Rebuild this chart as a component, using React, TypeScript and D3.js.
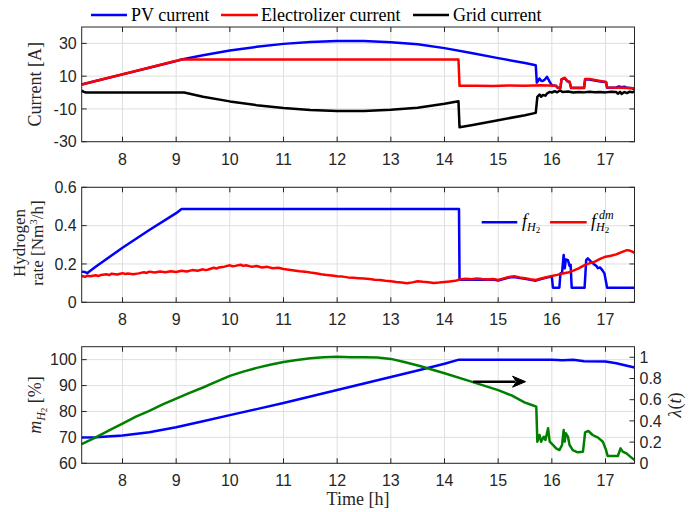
import React from "react";
import * as d3 from "d3";

type Pt = [number, number];

// time axis
const timeDomain = [7.24, 17.54];
const timeTicks = [8, 9, 10, 11, 12, 13, 14, 15, 16, 17];

// panel 1: currents [A]
const currentTicks = [-30, -10, 10, 30];
const pvCurrent: Pt[] = [
  [7.24, 4.9], [7.5, 7.0], [8.0, 11.1], [8.5, 15.1], [9.0, 19.2], [9.1, 20.2], [9.5, 22.8],
  [10.0, 25.6], [10.5, 27.9], [11.0, 29.7], [11.5, 30.9], [12.0, 31.5], [12.5, 31.4],
  [13.0, 30.7], [13.5, 29.5], [14.0, 27.1], [14.5, 24.1], [15.0, 21.0], [15.5, 18.0],
  [15.7, 16.7], [15.72, 6.1], [15.75, 7.5], [15.77, 8.6], [15.8, 7.2], [15.83, 7.0],
  [15.87, 8.0], [15.91, 9.6], [15.94, 7.8], [15.96, 6.5], [16.0, 4.5], [16.08, 4.0],
  [16.11, 2.7], [16.16, 2.7], [16.18, 8.0], [16.24, 8.8], [16.29, 6.8], [16.33, 6.4],
  [16.36, 2.7], [16.6, 2.7], [16.62, 8.0], [16.7, 8.0], [16.85, 7.1], [17.01, 6.3],
  [17.03, 2.9], [17.2, 3.1], [17.25, 3.7], [17.3, 3.3], [17.35, 3.6], [17.4, 2.9],
  [17.5, 2.6], [17.54, 1.9],
];
const electrolyzerCurrent: Pt[] = [
  [7.24, 4.9], [9.1, 20.2], [14.26, 20.2], [14.28, 4.1], [14.6, 4.2], [14.9, 4.0],
  [15.2, 4.3], [15.5, 4.2], [15.8, 4.4], [16.08, 4.1], [16.11, 2.9], [16.16, 2.9],
  [16.18, 8.2], [16.24, 9.0], [16.29, 7.0], [16.33, 6.6], [16.36, 2.9], [16.6, 2.9],
  [16.62, 8.2], [16.72, 8.2], [16.85, 7.4], [17.01, 6.5], [17.03, 3.1], [17.3, 3.0],
  [17.54, 2.6],
];
const gridCurrent: Pt[] = [
  [7.24, 1.2], [7.28, 0.4], [7.32, 0], [9.15, 0], [9.5, -2.6], [10.0, -5.4], [10.5, -7.7],
  [11.0, -9.5], [11.5, -10.7], [12.0, -11.3], [12.5, -11.2], [13.0, -10.5], [13.5, -9.3],
  [14.0, -6.9], [14.26, -5.3], [14.28, -21.2], [14.5, -19.9], [15.0, -16.9], [15.5, -13.8],
  [15.7, -12.4], [15.73, -2.6], [15.77, -1.2], [15.8, -2.6], [15.83, -1.5], [15.88, -1.9],
  [15.91, -0.6], [15.96, 0.4], [16.0, 0], [16.05, 0.8], [16.1, 0.2], [16.15, 1.3],
  [16.2, 0.3], [16.3, 0.6], [16.4, 0], [16.5, 0.4], [16.6, 0.1], [16.7, 0.5], [16.8, 0.2],
  [16.9, 0.3], [17.0, 0.1], [17.1, 0.5], [17.2, 0.3], [17.23, -0.7], [17.27, 0.4],
  [17.3, -0.8], [17.35, 0.3], [17.4, -0.3], [17.45, 0.5], [17.5, 0.2], [17.54, 0.6],
];

// panel 2: hydrogen rate [Nm3/h]
const rateTicks = [0, 0.2, 0.4, 0.6];
const hydrogenRate: Pt[] = [
  [7.24, 0.16], [7.3, 0.158], [7.34, 0.152], [7.5, 0.185], [8.0, 0.285], [8.5, 0.377],
  [9.0, 0.465], [9.1, 0.487], [14.27, 0.487], [14.28, 0.118], [14.5, 0.117], [14.7, 0.118],
  [14.9, 0.119], [15.0, 0.114], [15.1, 0.121], [15.2, 0.129], [15.3, 0.132], [15.4, 0.127],
  [15.5, 0.123], [15.6, 0.117], [15.7, 0.113], [15.8, 0.121], [15.9, 0.129], [16.0, 0.134],
  [16.02, 0.076], [16.14, 0.076], [16.16, 0.151], [16.19, 0.155], [16.22, 0.247],
  [16.24, 0.177], [16.26, 0.224], [16.3, 0.22], [16.33, 0.19], [16.35, 0.195],
  [16.37, 0.076], [16.61, 0.076], [16.64, 0.22], [16.67, 0.229], [16.73, 0.212],
  [16.78, 0.2], [16.83, 0.189], [16.86, 0.178], [16.9, 0.182], [16.94, 0.168],
  [16.98, 0.151], [17.03, 0.076], [17.54, 0.076],
];
const hydrogenDemand: Pt[] = [
  [7.24, 0.137], [7.3, 0.133], [7.35, 0.139], [7.4, 0.136], [7.5, 0.141], [7.55, 0.137],
  [7.6, 0.143], [7.7, 0.146], [7.75, 0.142], [7.8, 0.149], [7.9, 0.145], [8.0, 0.152],
  [8.05, 0.148], [8.1, 0.15], [8.2, 0.146], [8.3, 0.151], [8.4, 0.157], [8.45, 0.153],
  [8.5, 0.16], [8.6, 0.156], [8.7, 0.161], [8.8, 0.157], [8.9, 0.162], [9.0, 0.158],
  [9.1, 0.165], [9.2, 0.161], [9.3, 0.168], [9.4, 0.165], [9.5, 0.172], [9.55, 0.168],
  [9.6, 0.171], [9.7, 0.18], [9.75, 0.176], [9.8, 0.182], [9.9, 0.186], [10.0, 0.193],
  [10.05, 0.188], [10.1, 0.19], [10.2, 0.196], [10.25, 0.19], [10.3, 0.193], [10.4, 0.186],
  [10.5, 0.189], [10.6, 0.182], [10.7, 0.185], [10.8, 0.178], [10.9, 0.18], [11.0, 0.174],
  [11.1, 0.17], [11.2, 0.166], [11.3, 0.162], [11.4, 0.16], [11.5, 0.155], [11.6, 0.152],
  [11.7, 0.146], [11.8, 0.143], [11.9, 0.14], [12.0, 0.136], [12.1, 0.134], [12.2, 0.13],
  [12.3, 0.128], [12.4, 0.126], [12.5, 0.124], [12.6, 0.121], [12.7, 0.118], [12.8, 0.116],
  [12.9, 0.112], [13.0, 0.11], [13.1, 0.106], [13.2, 0.103], [13.3, 0.099], [13.4, 0.104],
  [13.5, 0.11], [13.6, 0.107], [13.7, 0.105], [13.8, 0.101], [13.9, 0.103], [14.0, 0.106],
  [14.1, 0.109], [14.2, 0.112], [14.3, 0.12], [14.4, 0.123], [14.5, 0.12], [14.6, 0.124],
  [14.7, 0.121], [14.8, 0.119], [14.9, 0.122], [15.0, 0.117], [15.1, 0.125], [15.2, 0.132],
  [15.3, 0.136], [15.4, 0.13], [15.5, 0.126], [15.6, 0.12], [15.7, 0.116], [15.8, 0.124],
  [15.9, 0.131], [16.0, 0.137], [16.1, 0.143], [16.2, 0.15], [16.3, 0.155], [16.4, 0.165],
  [16.5, 0.177], [16.6, 0.193], [16.7, 0.203], [16.8, 0.212], [16.9, 0.227], [17.0, 0.238],
  [17.1, 0.243], [17.2, 0.25], [17.3, 0.262], [17.35, 0.267], [17.4, 0.272], [17.45, 0.27],
  [17.5, 0.264], [17.54, 0.258],
];

// panel 3: hydrogen mass [%] (left) and lambda(t) (right)
const massTicks = [60, 70, 80, 90, 100];
const lambdaTicks = [0, 0.2, 0.4, 0.6, 0.8, 1];
const hydrogenMass: Pt[] = [
  [7.24, 70.0], [7.5, 70.1], [8.0, 70.7], [8.5, 72.0], [9.0, 73.9], [9.5, 76.2],
  [10.0, 78.6], [10.5, 80.9], [11.0, 83.3], [11.5, 85.8], [12.0, 88.3], [12.5, 90.8],
  [13.0, 93.3], [13.5, 95.8], [14.0, 98.4], [14.27, 100], [15.0, 100], [16.0, 100],
  [16.2, 99.8], [16.4, 100], [16.6, 99.4], [17.0, 99.3], [17.2, 98.6], [17.54, 97.0],
];
const lambdaValues: Pt[] = [
  [7.24, 0.18], [7.5, 0.245], [7.75, 0.31], [8.0, 0.375], [8.25, 0.44], [8.5, 0.495],
  [8.75, 0.555], [9.0, 0.61], [9.25, 0.665], [9.5, 0.715], [9.75, 0.77], [10.0, 0.825],
  [10.25, 0.865], [10.5, 0.9], [10.75, 0.93], [11.0, 0.955], [11.25, 0.975], [11.5, 0.99],
  [11.75, 1.0], [12.0, 1.005], [12.25, 1.0], [12.5, 1.0], [12.75, 0.997], [13.0, 0.985],
  [13.25, 0.955], [13.54, 0.918], [14.0, 0.85], [14.5, 0.77], [15.0, 0.69], [15.25, 0.64],
  [15.49, 0.575], [15.6, 0.555], [15.71, 0.534], [15.73, 0.204], [15.77, 0.267],
  [15.8, 0.204], [15.85, 0.251], [15.88, 0.22], [15.93, 0.33], [15.96, 0.204],
  [16.02, 0.173], [16.08, 0.141], [16.14, 0.125], [16.19, 0.173], [16.22, 0.314],
  [16.24, 0.204], [16.26, 0.283], [16.3, 0.251], [16.33, 0.173], [16.39, 0.125],
  [16.48, 0.104], [16.58, 0.11], [16.62, 0.292], [16.68, 0.305], [16.76, 0.267],
  [16.86, 0.242], [16.95, 0.204], [17.01, 0.125], [17.04, 0.069], [17.23, 0.069],
  [17.28, 0.141], [17.32, 0.11], [17.39, 0.094], [17.46, 0.063], [17.54, 0.031],
];
const arrowFrom: Pt = [14.53, 0.77];
const arrowTo: Pt = [15.51, 0.77];

const AX = "#262626";
const GRID = "#dfdfdf";
const TICKFONT = "'Liberation Sans', Arial, sans-serif";
const LABELFONT = "'Liberation Serif', 'Times New Roman', serif";

const x = d3.scaleLinear().domain(timeDomain).range([81.7, 634.5]);
const yCur = d3.scaleLinear().domain([-30, 40]).range([141.7, 27]);
const yRate = d3.scaleLinear().domain([0, 0.6]).range([302.3, 187.3]);
const yMass = d3.scaleLinear().domain([60, 105]).range([463.3, 346.7]);
const yLam = d3.scaleLinear().domain([0, 1.1]).range([463.3, 346.7]);

const mkLine = (y: d3.ScaleLinear<number, number>) =>
  d3.line<Pt>().x((d) => x(d[0])).y((d) => y(d[1]));

type Sc = d3.ScaleLinear<number, number>;

// grid lines under the data
const Grid = ({ y, ticks }: { y: Sc; ticks: number[] }) => {
  const [x0, x1] = x.range();
  const [yb, yt] = y.range();
  return (
    <g>
      {timeTicks.map((t) => (
        <line key={"gx" + t} x1={x(t)} x2={x(t)} y1={yb} y2={yt} stroke={GRID} />
      ))}
      {ticks.map((v) => (
        <line key={"gy" + v} x1={x0} x2={x1} y1={y(v)} y2={y(v)} stroke={GRID} />
      ))}
    </g>
  );
};

// box, ticks (inward, matlab style) and tick labels
const Axes = ({ y, ticks, right }: { y: Sc; ticks: number[]; right?: { y: Sc; ticks: number[] } }) => {
  const [x0, x1] = x.range();
  const [yb, yt] = y.range();
  const tl = 5;
  return (
    <g fontFamily={TICKFONT} fontSize={16} fill={AX}>
      <rect x={x0} y={yt} width={x1 - x0} height={yb - yt} fill="none" stroke={AX} strokeWidth={1} />
      {timeTicks.map((t) => (
        <g key={"tx" + t}>
          <line x1={x(t)} x2={x(t)} y1={yb} y2={yb - tl} stroke={AX} />
          <line x1={x(t)} x2={x(t)} y1={yt} y2={yt + tl} stroke={AX} />
          <text x={x(t)} y={yb + 23} textAnchor="middle">{t}</text>
        </g>
      ))}
      {ticks.map((v) => (
        <g key={"ty" + v}>
          <line x1={x0} x2={x0 + tl} y1={y(v)} y2={y(v)} stroke={AX} />
          {!right && <line x1={x1} x2={x1 - tl} y1={y(v)} y2={y(v)} stroke={AX} />}
          <text x={x0 - 5} y={y(v)} dy="0.35em" textAnchor="end">{String(v)}</text>
        </g>
      ))}
      {right &&
        right.ticks.map((v) => (
          <g key={"tr" + v}>
            <line x1={x1} x2={x1 - tl} y1={right.y(v)} y2={right.y(v)} stroke={AX} />
            <text x={x1 + 5} y={right.y(v)} dy="0.35em" textAnchor="start">{String(v)}</text>
          </g>
        ))}
    </g>
  );
};

export default function App() {
  const lw = 2.5;
  const ax = x(arrowFrom[0]);
  const bx = x(arrowTo[0]);
  const ay = yLam(arrowFrom[1]);
  return (
    <div style={{ position: "absolute", left: 0, top: 0 }}>
      <svg width={690} height={512} style={{ display: "block", background: "#fff" }}>
        <rect width={690} height={512} fill="#fff" />

        {/* panel 1 */}
        <Grid y={yCur} ticks={currentTicks} />
        <path d={mkLine(yCur)(pvCurrent) || ""} fill="none" stroke="#0000ff" strokeWidth={lw} strokeLinejoin="round" />
        <path d={mkLine(yCur)(electrolyzerCurrent) || ""} fill="none" stroke="#ff0000" strokeWidth={lw} strokeLinejoin="round" />
        <path d={mkLine(yCur)(gridCurrent) || ""} fill="none" stroke="#000000" strokeWidth={lw} strokeLinejoin="round" />
        <Axes y={yCur} ticks={currentTicks} />
        <text transform={`translate(35,${(yCur.range()[0] + yCur.range()[1]) / 2}) rotate(-90)`} textAnchor="middle" fontFamily={LABELFONT} fontSize={18} dy="0.35em" fill={AX}>Current [A]</text>

        {/* legend top */}
        <g fontFamily={LABELFONT} fontSize={18} fill="#000">
          <line x1={91} x2={127} y1={15} y2={15} stroke="#0000ff" strokeWidth={lw} />
          <text x={131} y={21}>PV current</text>
          <line x1={221} x2={258} y1={15} y2={15} stroke="#ff0000" strokeWidth={lw} />
          <text x={261} y={21}>Electrolizer current</text>
          <line x1={413} x2={449} y1={15} y2={15} stroke="#000000" strokeWidth={lw} />
          <text x={453} y={21}>Grid current</text>
        </g>

        {/* panel 2 */}
        <Grid y={yRate} ticks={rateTicks} />
        <path d={mkLine(yRate)(hydrogenRate) || ""} fill="none" stroke="#0000ff" strokeWidth={lw} strokeLinejoin="round" />
        <path d={mkLine(yRate)(hydrogenDemand) || ""} fill="none" stroke="#ff0000" strokeWidth={lw} strokeLinejoin="round" />
        <Axes y={yRate} ticks={rateTicks} />
        <g fontFamily={LABELFONT} fontSize={17} fill={AX}>
          <text transform={`translate(19,243) rotate(-90)`} textAnchor="middle" dy="0.35em">Hydrogen</text>
          <text transform={`translate(37,243) rotate(-90)`} textAnchor="middle" dy="0.35em">
            rate [Nm<tspan dy={-6} fontSize={11}>3</tspan><tspan dy={6}>/h]</tspan>
          </text>
        </g>
        <g fontFamily={LABELFONT} fill="#000">
          <line x1={481.7} x2={517.3} y1={222.3} y2={222.3} stroke="#0000ff" strokeWidth={lw} />
          <text x={522} y={227} fontSize={18}>
            <tspan fontStyle="italic">f</tspan>
            <tspan dy={4} fontSize={12} fontStyle="italic">H</tspan>
            <tspan dy={2} fontSize={9}>2</tspan>
          </text>
          <line x1={550} x2={586.7} y1={222.3} y2={222.3} stroke="#ff0000" strokeWidth={lw} />
          <text x={591} y={227} fontSize={18}>
            <tspan fontStyle="italic">f</tspan>
            <tspan dy={4} fontSize={12} fontStyle="italic">H</tspan>
            <tspan dy={2} fontSize={9}>2</tspan>
          </text>
          <text x={599} y={219} fontSize={12} fontStyle="italic">dm</text>
        </g>

        {/* panel 3 */}
        <Grid y={yMass} ticks={massTicks} />
        <path d={mkLine(yMass)(hydrogenMass) || ""} fill="none" stroke="#0000ff" strokeWidth={lw} strokeLinejoin="round" />
        <path d={mkLine(yLam)(lambdaValues) || ""} fill="none" stroke="#008000" strokeWidth={lw} strokeLinejoin="round" />
        <line x1={ax} x2={bx - 10} y1={ay} y2={ay} stroke="#000" strokeWidth={2.5} />
        <path d={`M${bx},${ay} L${bx - 13},${ay - 5.5} L${bx - 9},${ay} L${bx - 13},${ay + 5.5} Z`} fill="#000" stroke="#000" strokeWidth={1} strokeLinejoin="round" />
        <Axes y={yMass} ticks={massTicks} right={{ y: yLam, ticks: lambdaTicks }} />
        <text transform={`translate(35,405) rotate(-90)`} textAnchor="middle" dy="0.35em" fontFamily={LABELFONT} fontSize={18} fill={AX}>
          <tspan fontStyle="italic">m</tspan>
          <tspan dy={4} fontSize={12} fontStyle="italic">H</tspan>
          <tspan dy={2} fontSize={9}>2</tspan>
          <tspan dy={-6}> [%]</tspan>
        </text>
        <text transform={`translate(675,405) rotate(-90)`} textAnchor="middle" dy="0.35em" fontFamily={LABELFONT} fontSize={18} fill={AX}>
          <tspan fontStyle="italic">λ</tspan>(<tspan fontStyle="italic">t</tspan>)
        </text>
        <text x={358} y={505} textAnchor="middle" fontFamily={LABELFONT} fontSize={18} fill={AX}>Time [h]</text>
      </svg>
    </div>
  );
}
